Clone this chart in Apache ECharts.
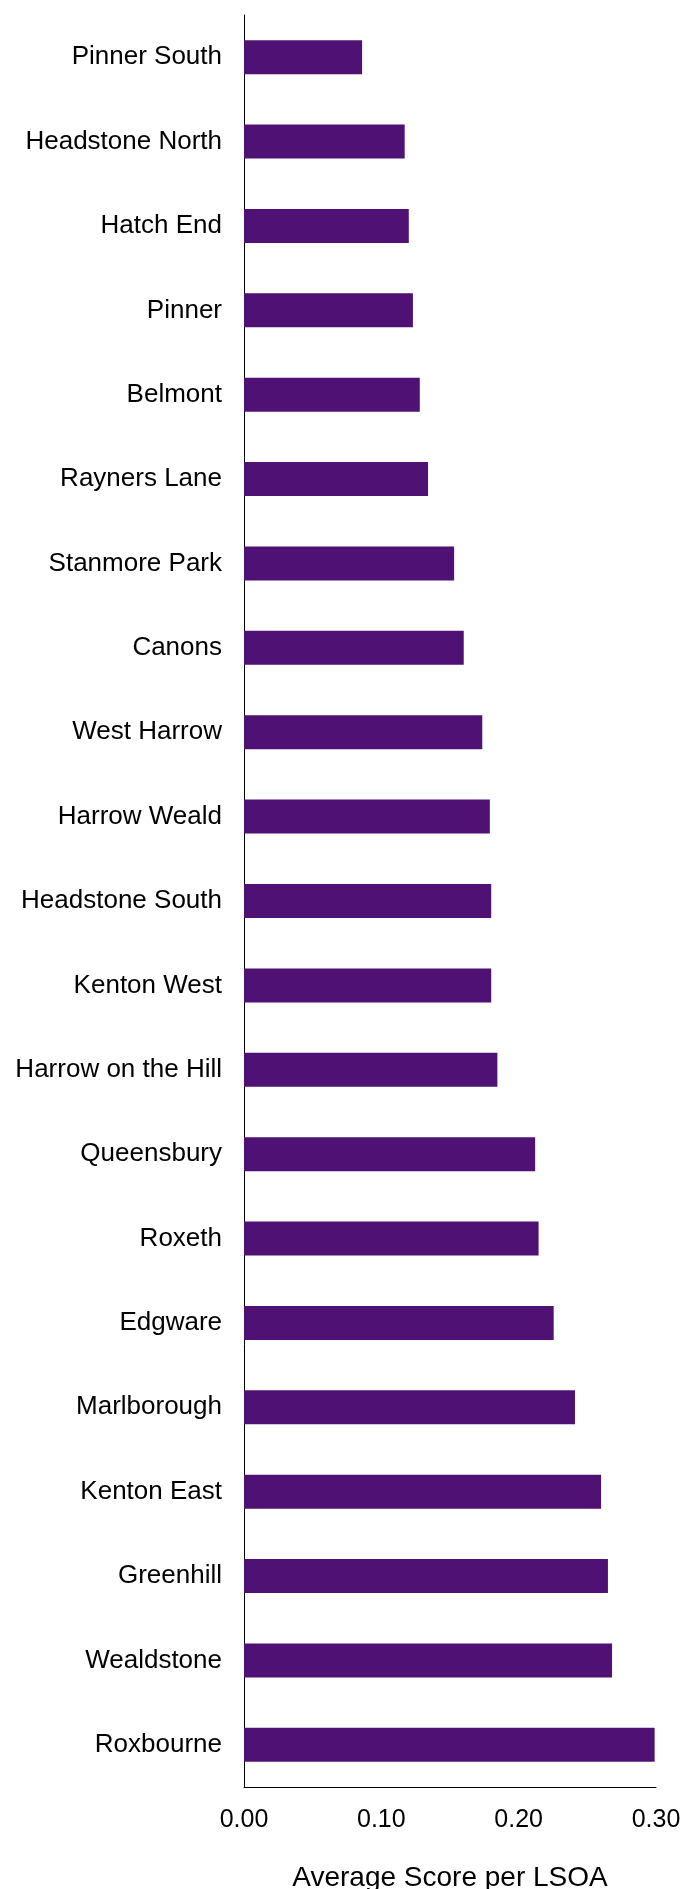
<!DOCTYPE html>
<html>
<head>
<meta charset="utf-8">
<script src="https://cdn.jsdelivr.net/npm/echarts@6/dist/echarts.min.js"></script>
<style>
html,body{margin:0;padding:0;background:#fff;}
#chart{width:685px;height:1889px;}
</style>
</head>
<body>
<div id="chart"></div>
<script>
const categories = [
  "Pinner South","Headstone North","Hatch End","Pinner","Belmont","Rayners Lane",
  "Stanmore Park","Canons","West Harrow","Harrow Weald","Headstone South","Kenton West",
  "Harrow on the Hill","Queensbury","Roxeth","Edgware","Marlborough","Kenton East",
  "Greenhill","Wealdstone","Roxbourne"
];
const values = [
  0.086, 0.117, 0.120, 0.123, 0.128, 0.134,
  0.153, 0.160, 0.1735, 0.179, 0.180, 0.180,
  0.1845, 0.212, 0.2145, 0.2255, 0.241, 0.260,
  0.265, 0.268, 0.299
];
const xTicks = [0, 0.1, 0.2, 0.3];
const axisTitle = "Average Score per LSOA";

const chart = echarts.init(document.getElementById('chart'), null, {renderer:'canvas'});
const font = "'Liberation Sans', Arial, sans-serif";
chart.setOption({
  animation:false,
  backgroundColor:'#ffffff',
  grid:{left:244, right:29, top:15, bottom:102, containLabel:false, outerBoundsMode:'none'},
  xAxis:{
    type:'value', min:xTicks[0], max:xTicks[xTicks.length-1], interval:0.1,
    name:axisTitle, nameLocation:'middle', nameGap:77,
    nameTextStyle:{fontFamily:font, fontSize:28, color:'#000'},
    axisLine:{show:true, lineStyle:{color:'#000', width:1}},
    axisTick:{show:false},
    splitLine:{show:false},
    axisLabel:{fontFamily:font, fontSize:25, color:'#000', margin:21,
      formatter:v=>v.toFixed(2)}
  },
  yAxis:{
    type:'category', data:categories, inverse:true,
    axisLine:{show:true, lineStyle:{color:'#000', width:1}},
    axisTick:{show:false},
    axisLabel:{fontFamily:font, fontSize:26, color:'#000', margin:22}
  },
  series:[{
    type:'bar', data:values, barWidth:34,
    itemStyle:{color:'#4f1174'}
  }]
});
</script>
</body>
</html>
